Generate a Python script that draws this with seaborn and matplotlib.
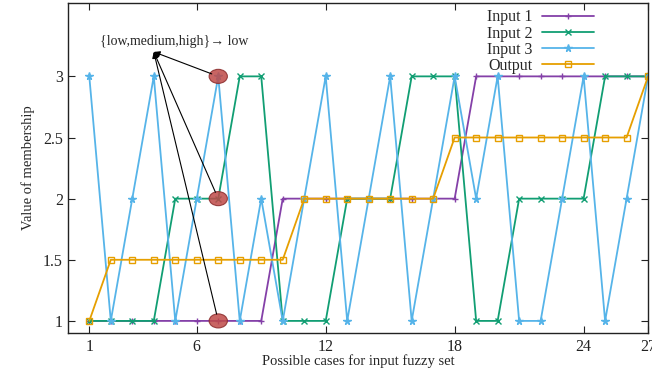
import numpy as np
import pandas as pd
import matplotlib
matplotlib.use("Agg")
import matplotlib.pyplot as plt
from matplotlib.patches import Ellipse
import seaborn as sns

# data
cases = list(range(1, 28))
input1 = [1, 1, 1, 1, 1, 1, 1, 1, 1,
          2, 2, 2, 2, 2, 2, 2, 2, 2,
          3, 3, 3, 3, 3, 3, 3, 3, 3]
input2 = [1, 1, 1, 1, 2, 2, 2, 3, 3,
          1, 1, 1, 2, 2, 2, 3, 3, 3,
          1, 1, 2, 2, 2, 2, 3, 3, 3]
input3 = [3, 1, 2, 3, 1, 2, 3, 1, 2,
          1, 2, 3, 1, 2, 3, 1, 2, 3,
          2, 3, 1, 1, 2, 3, 1, 2, 3]
output = [1, 1.5, 1.5, 1.5, 1.5, 1.5, 1.5, 1.5, 1.5,
          1.5, 2, 2, 2, 2, 2, 2, 2, 2.5,
          2.5, 2.5, 2.5, 2.5, 2.5, 2.5, 2.5, 2.5, 3]
series_names = ["Input 1", "Input 2", "Input 3", "Output"]
x_ticks = [1, 6, 12, 18, 24, 27]
y_ticks = [1, 1.5, 2, 2.5, 3]
y_ticklabels = ["1", "1.5", "2", "2.5", "3"]
highlight_case = 7
highlight_vals = [3, 2, 1]
note_text = "{low,medium,high}\u2192 low"

sns.set_style("ticks")
plt.rcParams["font.family"] = ["Liberation Serif", "DejaVu Serif"]
plt.rcParams["xtick.direction"] = "in"
plt.rcParams["ytick.direction"] = "in"

fig = plt.figure(figsize=(6.52, 3.76), dpi=100)
ax = fig.add_axes([0.104, 0.114, 0.890, 0.878])

colors = ["#8440a8", "#119e73", "#56B4E9", "#E69F00"]
markers = ["+", "x", "*", "s"]
sizes = [5, 5, 5.5, 5]
for name, vals, c, m, ms in zip(series_names, [input1, input2, input3, output],
                                colors, markers, sizes):
    df = pd.DataFrame({"case": cases, "value": vals})
    fc = "none" if m == "s" else c
    sns.lineplot(data=df, x="case", y="value", ax=ax, color=c, marker=m,
                 markersize=ms, markeredgecolor=c, markerfacecolor=fc,
                 markeredgewidth=1.0, linewidth=1.3, label=name)

# highlighted points and the annotation
for v in highlight_vals:
    ax.add_patch(Ellipse((highlight_case, v), 0.85, 0.115, facecolor="#bf4a48",
                         edgecolor="#8a2a2a", lw=0.8, alpha=0.85, zorder=5))
    ax.annotate("", xy=(4.0, 3.2), xytext=(highlight_case, v),
                arrowprops=dict(arrowstyle="-|>", color="black", lw=0.8,
                                mutation_scale=9, shrinkA=5, shrinkB=0),
                zorder=6)
ax.text(1.5, 3.285, note_text, fontsize=10, ha="left", va="center")

ax.set_xlim(0, 27)
ax.set_ylim(0.9, 3.6)
ax.set_xticks(x_ticks)
ax.set_yticks(y_ticks)
ax.set_yticklabels(y_ticklabels)
ax.tick_params(top=True, right=True, length=5, width=0.8, labelsize=11.5,
               colors="#222222")
ax.tick_params(axis="x", pad=4)
for s in ax.spines.values():
    s.set_linewidth(1.0)
    s.set_color("#222222")
ax.set_xlabel("Possible cases for input fuzzy set", fontsize=10.5, labelpad=0)
ax.set_ylabel("Value of membership", fontsize=10.5, labelpad=6)

ax.legend(loc="upper right", bbox_to_anchor=(0.917, 1.0), frameon=False,
          markerfirst=False, handlelength=3.2, fontsize=11.5,
          labelspacing=0.01, borderaxespad=0, handletextpad=0.6)

fig.savefig("out.png", dpi=100)
